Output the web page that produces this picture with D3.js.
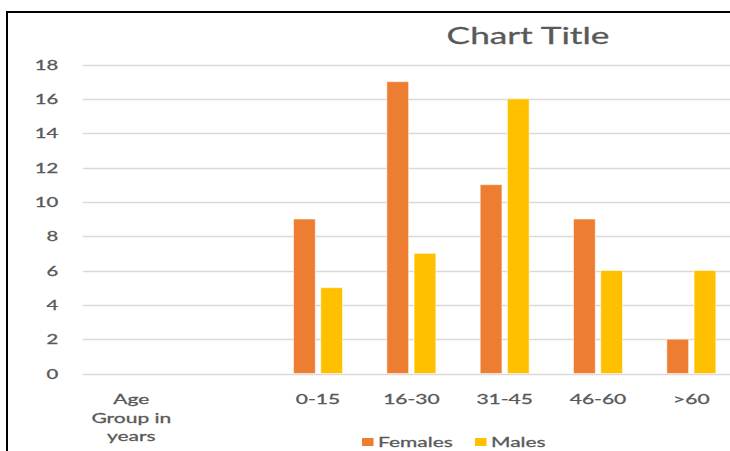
<!DOCTYPE html>
<html>
<head>
<meta charset="utf-8">
<script src="https://cdn.jsdelivr.net/npm/d3@7"></script>
<style>
  html, body { margin: 0; padding: 0; background: #fff; }
  svg { display: block; }
  text { font-family: Lato, "Open Sans", sans-serif; fill: #595959; stroke: #595959; stroke-width: 0.3px; }
</style>
</head>
<body>
<svg id="chart" width="730" height="451"></svg>
<script>
// ---- data ----
const categories = ["Age Group in years", "", "0-15", "16-30", "31-45", "46-60", ">60"];
const seriesNames = ["Females", "Males"];
const females = [null, null, 9, 17, 11, 9, 2];
const males = [null, null, 5, 7, 16, 6, 6];
const yTicks = [0, 2, 4, 6, 8, 10, 12, 14, 16, 18];
const chartTitle = "Chart Title";
const colors = ["#ED7D31", "#FFC000"];

// ---- layout ----
const W = 730, H = 451;
const SX = 1.5; // horizontal stretch of the source image
const svg = d3.select("#chart");

svg.append("rect").attr("x", 0).attr("y", 0).attr("width", W).attr("height", H).attr("fill", "#fff");
// frame (cropped on right/bottom)
svg.append("line").attr("x1", 7).attr("x2", 7).attr("y1", 11).attr("y2", H)
  .attr("stroke", "#000").attr("stroke-width", 2);
svg.append("line").attr("x1", 6).attr("x2", W).attr("y1", 12).attr("y2", 12)
  .attr("stroke", "#000").attr("stroke-width", 2);

const x0 = d3.scaleBand().domain(categories.map((c, i) => i)).range([84.7, 738]).padding(0);
const bw = x0.bandwidth();
const x1 = d3.scaleBand().domain(seriesNames).range([bw / 2 - 24.5, bw / 2 + 24.5]).paddingInner(0.2);
const y = d3.scaleLinear().domain([0, 18]).range([373.5, 64.5]);

function stretchedText(parent, x, yy, str, size, anchor) {
  const g = parent.append("g").attr("transform", `translate(${x},${yy}) scale(${SX},1)`);
  return g.append("text").attr("x", 0).attr("y", 0)
    .attr("font-size", size).attr("text-anchor", anchor).text(str);
}

// gridlines
const gridG = svg.append("g");
yTicks.forEach(t => {
  gridG.append("line")
    .attr("x1", 83).attr("x2", W)
    .attr("y1", Math.round(y(t)) + 0.5).attr("y2", Math.round(y(t)) + 0.5)
    .attr("stroke", "#d9d9d9").attr("stroke-width", 1.3);
});

// y tick labels
yTicks.forEach(t => {
  stretchedText(svg, 58.3, y(t) + 5, String(t), 13.5, "end");
});

// bars
const data = categories.map((c, i) => ({ i, vals: [females[i], males[i]] }));
const groups = svg.append("g").selectAll("g").data(data).join("g")
  .attr("transform", d => `translate(${x0(d.i)},0)`);
groups.selectAll("rect")
  .data(d => d.vals.map((v, k) => ({ key: seriesNames[k], v, k })).filter(e => e.v != null))
  .join("rect")
  .attr("x", e => x1(e.key))
  .attr("width", x1.bandwidth())
  .attr("y", e => y(e.v))
  .attr("height", e => y(0) - y(e.v))
  .attr("fill", e => colors[e.k])
  .attr("stroke", "#fff").attr("stroke-opacity", 0.55).attr("stroke-width", 1);

// x category labels (wrapped)
function wrap(str, maxChars) {
  const words = str.split(" ");
  const lines = [];
  let cur = "";
  words.forEach(w => {
    const test = cur ? cur + " " + w : w;
    if (test.length > maxChars && cur) { lines.push(cur); cur = w; }
    else cur = test;
  });
  if (cur) lines.push(cur);
  return lines;
}
categories.forEach((c, i) => {
  if (!c) return;
  const lines = wrap(c, 8);
  lines.forEach((ln, j) => {
    stretchedText(svg, x0(i) + bw / 2, 404 + j * 18.5, ln, 14, "middle");
  });
});

// title
stretchedText(svg, 528, 44, chartTitle, 23.5, "middle");

// legend
const legendItems = [
  { name: seriesNames[0], color: colors[0], sx: 362, tx: 378 },
  { name: seriesNames[1], color: colors[1], sx: 475, tx: 491 }
];
legendItems.forEach(it => {
  svg.append("rect").attr("x", it.sx).attr("y", 438).attr("width", 11.5).attr("height", 8).attr("fill", it.color);
  stretchedText(svg, it.tx, 446.5, it.name, 14, "start");
});
</script>
</body>
</html>
